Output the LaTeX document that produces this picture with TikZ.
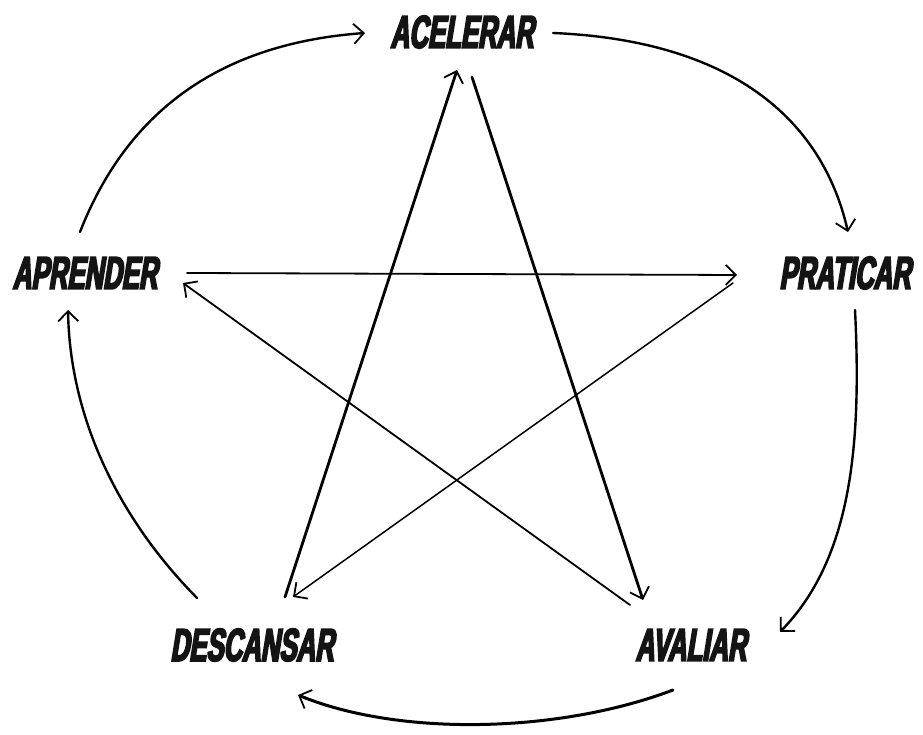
\documentclass[tikz,border=0pt]{standalone}
\usepackage{fontspec}
\usetikzlibrary{arrows.meta}
\newfontfamily\handfont[FakeStretch=0.56,FakeSlant=0.16,FakeBold=4]{Liberation Sans Bold}
\tikzset{
  lbl/.style={font=\handfont\fontsize{46}{46}\selectfont, inner sep=0pt, text=black!92},
  arr/.style={line width=1.8pt, line cap=round, -{Straight Barb[length=10pt,width=20pt,line width=1.8pt]}},
  thick arr/.style={arr, line width=2.4pt},
}
\begin{document}
\begin{tikzpicture}[x=1pt,y=1pt]
\useasboundingbox (0,0) rectangle (923,735);
\fill[white] (0,0) rectangle (923,735);
% labels (y = 735 - pixel y)
\node[lbl] (acel) at (462,703) {ACELERAR};
\node[lbl] (apre) at (85,462) {APRENDER};
\node[lbl] (prat) at (845,462) {PRATICAR};
\node[lbl] (desc) at (252,90) {DESCANSAR};
\node[lbl] (aval) at (691,90) {AVALIAR};
% connector end points
\coordinate (c1s) at (80,503);  \coordinate (c1e) at (365,702);
\coordinate (c2s) at (553,702); \coordinate (c2e) at (848,503);
\coordinate (c3s) at (855,425); \coordinate (c3e) at (780,103);
\coordinate (c4s) at (673,45);  \coordinate (c4e) at (298,40);
\coordinate (c5s) at (197,137); \coordinate (c5e) at (68,425);
\coordinate (s1s) at (187,462); \coordinate (s1e) at (737,460);
\coordinate (s2s) at (733,452); \coordinate (s2e) at (293,138);
\coordinate (s3s) at (285,138); \coordinate (s3e) at (457,665);
\coordinate (s4s) at (472,658); \coordinate (s4e) at (643,135);
\coordinate (s5s) at (630,130); \coordinate (s5e) at (183,452);
% outer cycle
\draw[thick arr] (c1s) .. controls (120,605) and (200,690) .. (c1e);
\draw[thick arr] (c2s) .. controls (720,695) and (820,625) .. (c2e);
\draw[thick arr] (c3s) .. controls (862,285) and (850,175) .. (c3e);
\draw[thick arr, line width=3pt] (c4s) .. controls (560,2) and (400,-2) .. (c4e);
\draw[thick arr] (c5s) .. controls (120,215) and (70,315) .. (c5e);
% star
\draw[arr] (s1s) -- (s1e);
\draw[arr, line width=1.5pt] (s2s) -- (s2e);
\draw[thick arr, line width=2.8pt] (s3s) -- (s3e);
\draw[thick arr, line width=2.8pt] (s4s) -- (s4e);
\draw[arr] (s5s) -- (s5e);
\end{tikzpicture}
\end{document}
